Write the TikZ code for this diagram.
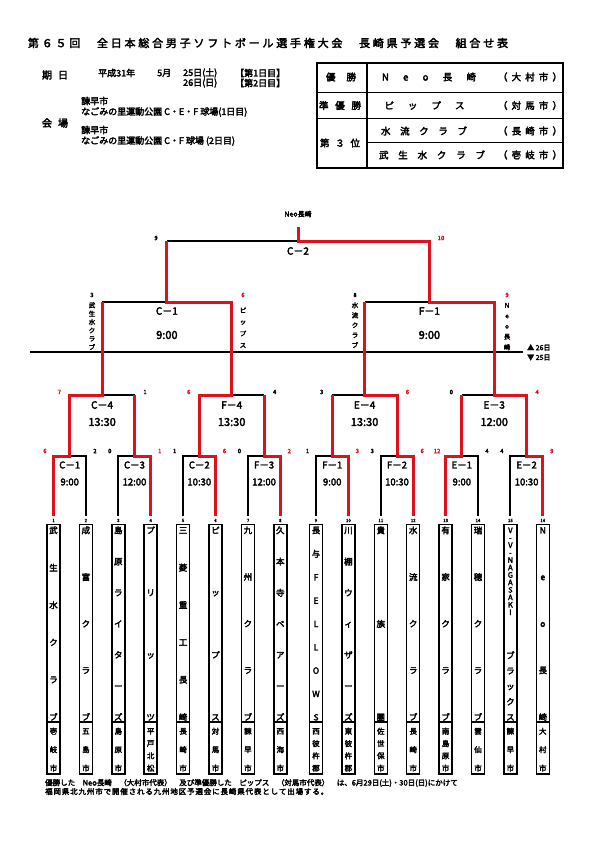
\documentclass[tikz,border=0pt]{standalone}
\usepackage{fontspec}
\setmainfont{Noto Sans CJK JP}[FakeBold=3]
\definecolor{wred}{RGB}{222,18,28}
\makeatletter
\newcommand\spr[2]{\makebox[#1][s]{\@tfor\@tmp:=#2\do{\@tmp\hfil}\unskip}}
\newcommand\vspr[2]{\vbox to #1{\offinterlineskip\@tfor\@tmp:=#2\do{\hbox to 0pt{\hss\vrule height .83em depth .07em width 0pt\@tmp\hss}\vfil}\unskip}}
\makeatother
\tikzset{
  blk/.style={line width=2pt,black,line join=miter},
  rd/.style={line width=3pt,wred,line join=miter},
  boxline/.style={line width=1.5pt,black},
  tnum/.style={font=\fontsize{4.5}{5}\selectfont,inner sep=0pt},
  sc/.style={font=\fontsize{6}{7}\selectfont,inner sep=0pt},
  scr/.style={sc,text=wred},
  mlab/.style={font=\fontsize{10}{12}\selectfont,inner sep=0pt},
  tlab/.style={font=\fontsize{11}{13}\selectfont,inner sep=0pt},
  rlab/.style={font=\fontsize{9.5}{11}\selectfont,inner sep=0pt},
  rtim/.style={font=\fontsize{9.5}{11}\selectfont,inner sep=0pt},
  vname/.style={font=\fontsize{8.5}{9}\selectfont,inner sep=0pt,anchor=north},
  vcity/.style={font=\fontsize{7.5}{8}\selectfont,inner sep=0pt,anchor=north},
  vsemi/.style={font=\fontsize{6.5}{7}\selectfont,inner sep=0pt,anchor=north},
  info/.style={font=\fontsize{9}{10}\selectfont,inner sep=0pt},
  tab/.style={font=\fontsize{9.5}{11}\selectfont,inner sep=0pt},
}
\newcommand\teambox[4]{%
  \draw[boxline] (#2-6.5,524.5) rectangle (#2+6.5,774);
  \draw[boxline] (#2-6.5,722) -- (#2+6.5,722);
  \node[tnum] (n#1) at (#2,520.5) {#1};
  \node[vname] (t#1) at (#2,526.2) {\vspr{194pt}{#3}};
  \node[vcity] (c#1) at (#2,727.6) {\vspr{43.2pt}{#4}};
}
\begin{document}
\begin{tikzpicture}[x=1pt,y=-1pt]
\fill[white] (0,0) rectangle (595,842);
\useasboundingbox (0,0) rectangle (595,842);

% title
\node[font=\fontsize{11}{13}\selectfont,inner sep=0pt] (title) at (268,43)
  {\spr{480pt}{第６５回　全日本総合男子ソフトボール選手権大会　長崎県予選会　組合せ表}};

% info block
\node[font=\fontsize{10}{12}\selectfont,inner sep=0pt] (kijitsu) at (55,75) {\spr{26pt}{期日}};
\node[info,anchor=west] (d1a) at (98,73) {平成31年};
\node[info,anchor=west] (d1b) at (157,73) {5月};
\node[info,anchor=west] (d1c) at (183,73) {25日(土)};
\node[info,anchor=west] (d1d) at (235,73) {【第1日目】};
\node[info,anchor=west] (d2c) at (183,83) {26日(日)};
\node[info,anchor=west] (d2d) at (235,83) {【第2日目】};
\node[font=\fontsize{10}{12}\selectfont,inner sep=0pt] (kaijo) at (55,123) {\spr{26pt}{会場}};
\node[info,anchor=west] (v1a) at (81,101) {諫早市};
\node[info,anchor=west] (v1b) at (81,112) {なごみの里運動公園 C・E・F 球場(1日目)};
\node[info,anchor=west] (v2a) at (81,130) {諫早市};
\node[info,anchor=west] (v2b) at (81,141) {なごみの里運動公園 C・F 球場 (2日目)};

% results table
\draw[line width=2pt] (316.7,63.3) rectangle (563,168);
\draw[line width=1.5pt] (316.7,92.3) -- (563,92.3);
\draw[line width=1.5pt] (316.7,118.3) -- (563,118.3);
\draw[line width=1.2pt] (367,142.7) -- (563,142.7);
\draw[line width=1.5pt] (367,63.3) -- (367,168);
\node[tab] (r1h) at (341,77) {\spr{30pt}{優勝}};
\node[tab] (r2h) at (340,105.5) {\spr{42pt}{準優勝}};
\node[tab] (r3h) at (340,143) {\spr{40pt}{第３位}};
\node[tab] (r1n) at (429,77) {\spr{94pt}{Neo長崎}};
\node[tab] (r1c) at (530,77) {\spr{64pt}{（大村市）}};
\node[tab] (r2n) at (424.5,105.5) {\spr{80pt}{ピップス}};
\node[tab] (r2c) at (530,105.5) {\spr{64pt}{（対馬市）}};
\node[tab] (r3n) at (424,131) {\spr{86pt}{水流クラブ}};
\node[tab] (r3c) at (530,131) {\spr{64pt}{（長崎市）}};
\node[tab] (r4n) at (432,155) {\spr{106pt}{武生水クラブ}};
\node[tab] (r4c) at (530,155) {\spr{64pt}{（壱岐市）}};

% day divider
\draw[line width=1.5pt] (30,352) -- (523,352);
\node[font=\fontsize{7}{8}\selectfont,inner sep=0pt,anchor=west] (d26) at (527,347.5) {▲ 26日};
\node[font=\fontsize{7}{8}\selectfont,inner sep=0pt,anchor=west] (d25) at (527,357.5) {▼ 25日};

% ---------- black base lines ----------
\foreach \a/\b in {53.5/85.9,118.3/150.7,183.1/215.5,247.9/280.3,316/348.4,380.8/413.2,445.6/478,510.4/542.8}
  \draw[blk] (\a,516) -- (\a,456) -- (\b,456) -- (\b,516);
\foreach \a/\b in {69.7/134.5,199.3/264.1,332.2/397,461.8/526.6}
  \draw[blk] (\a,395) -- (\b,395);
\draw[blk] (102.1,302) -- (231.7,302);
\draw[blk] (364.6,302) -- (494.2,302);
\draw[blk] (166.9,241) -- (429.4,241);

% ---------- red winner paths ----------
\draw[rd] (53.5,516) -- (53.5,456) -- (69.7,456) -- (69.7,395) -- (102.1,395) -- (102.1,302);
\draw[rd] (150.7,516) -- (150.7,456) -- (134.5,456) -- (134.5,395);
\draw[rd] (215.5,516) -- (215.5,456) -- (199.3,456) -- (199.3,395) -- (231.7,395) -- (231.7,302) -- (166.9,302) -- (166.9,241);
\draw[rd] (280.3,516) -- (280.3,456) -- (264.1,456) -- (264.1,395);
\draw[rd] (348.4,516) -- (348.4,456) -- (332.2,456) -- (332.2,395);
\draw[rd] (413.2,516) -- (413.2,456) -- (397,456) -- (397,395) -- (364.6,395) -- (364.6,302);
\draw[rd] (445.6,516) -- (445.6,456) -- (461.8,456) -- (461.8,395);
\draw[rd] (542.8,516) -- (542.8,456) -- (526.6,456) -- (526.6,395) -- (494.2,395) -- (494.2,302) -- (429.4,302) -- (429.4,241) -- (298.15,241) -- (298.15,227);

% ---------- match labels ----------
\node[font=\fontsize{7}{8}\selectfont,inner sep=0pt] (champ) at (298,214) {Neo長崎};
\node[mlab] (mF) at (298,251) {C－2};
\node[mlab] (mS1) at (166.9,311) {C－1};
\node[tlab] (tS1) at (166.9,335) {9:00};
\node[mlab] (mS2) at (429.4,311) {F－1};
\node[tlab] (tS2) at (429.4,335) {9:00};
\node[mlab] (mQ1) at (102.1,405) {C－4};
\node[tlab] (tQ1) at (102.1,422) {13:30};
\node[mlab] (mQ2) at (231.7,405) {F－4};
\node[tlab] (tQ2) at (231.7,422) {13:30};
\node[mlab] (mQ3) at (364.6,405) {E－4};
\node[tlab] (tQ3) at (364.6,422) {13:30};
\node[mlab] (mQ4) at (494.2,405) {E－3};
\node[tlab] (tQ4) at (494.2,422) {12:00};
\foreach \x/\m/\t [count=\k] in {69.7/C－1/9:00,134.5/C－3/12:00,199.3/C－2/10:30,264.1/F－3/12:00,332.2/F－1/9:00,397/F－2/10:30,461.8/E－1/9:00,526.6/E－2/10:30}{
  \node[rlab] (m1\k) at (\x,465) {\m};
  \node[rtim] (t1\k) at (\x,482) {\t};
}

% ---------- scores ----------
\node[scr] (s1a) at (45,451) {6};   \node[sc] (s1b) at (95,451) {2};
\node[sc] (s2a) at (109.8,451) {0}; \node[scr] (s2b) at (159.7,451) {1};
\node[sc] (s3a) at (174.6,451) {1}; \node[scr] (s3b) at (224.5,451) {6};
\node[sc] (s4a) at (239.4,451) {0}; \node[scr] (s4b) at (289.3,451) {2};
\node[sc] (s5a) at (307.5,451) {1}; \node[scr] (s5b) at (357.4,451) {3};
\node[sc] (s6a) at (372.3,451) {3}; \node[scr] (s6b) at (422.2,451) {6};
\node[scr] (s7a) at (437.1,451) {12}; \node[sc] (s7b) at (487,451) {4};
\node[sc] (s8a) at (501.9,451) {4}; \node[scr] (s8b) at (551.8,451) {9};
\node[scr] (q1a) at (59.2,392) {7};  \node[sc] (q1b) at (145,392) {1};
\node[scr] (q2a) at (188.8,392) {6}; \node[sc] (q2b) at (274.6,392) {4};
\node[sc] (q3a) at (321.7,392) {3};  \node[scr] (q3b) at (407.5,392) {6};
\node[sc] (q4a) at (451.3,392) {0};  \node[scr] (q4b) at (537.1,392) {4};
\node[sc] (p1a) at (92,295) {3};   \node[scr] (p1b) at (243,295) {6};
\node[sc] (p2a) at (355,295) {8};  \node[scr] (p2b) at (507,295) {9};
\node[sc] (fa) at (156,238) {9};   \node[scr] (fb) at (441,238) {10};

% semi-final vertical team labels
\node[vsemi] (l1) at (92,302.1) {\vspr{47.4pt}{武生水クラブ}};
\node[vsemi] (l2) at (243,307.1) {\vspr{40.4pt}{ピップス}};
\node[vsemi] (l3) at (355,302.1) {\vspr{45.4pt}{水流クラブ}};
\node[vsemi] (l4) at (507,302.1) {\vspr{47.4pt}{Neo長崎}};

% ---------- team boxes ----------
\teambox{1}{53.5}{武生水クラブ}{壱岐市}
\teambox{2}{85.9}{成富クラブ}{五島市}
\teambox{3}{118.3}{島原ライターズ}{島原市}
\teambox{4}{150.7}{プリッツ}{平戸北松}
\teambox{5}{183.1}{三菱重工長崎}{長崎市}
\teambox{6}{215.5}{ピップス}{対馬市}
\teambox{7}{247.9}{九州クラブ}{諫早市}
\teambox{8}{280.3}{久本寺ベアーズ}{西海市}
\teambox{9}{316}{長与FELLOWS}{西彼杵郡}
\teambox{10}{348.4}{川棚ウィザーズ}{東彼杵郡}
\teambox{11}{380.8}{貴族團}{佐世保市}
\teambox{12}{413.2}{水流クラブ}{長崎市}
\teambox{13}{445.6}{有家クラブ}{南島原市}
\teambox{14}{478}{瑞穂クラブ}{雲仙市}
\draw[boxline] (503.9,524.5) rectangle (516.9,774);
\draw[boxline] (503.9,722) -- (516.9,722);
\node[tnum] (n15) at (510.4,520.5) {15};
\node[vname,font=\fontsize{7.5}{8}\selectfont] (t15a) at (510.4,526.6) {\vspr{88.2pt}{V-V-NAGASAKI}};
\node[vname] (t15b) at (510.4,651.2) {\vspr{69pt}{ブラックス}};
\node[vcity] (c15) at (510.4,727.6) {\vspr{43.2pt}{諫早市}};
\teambox{16}{542.8}{Neo長崎}{大村市}

% footer
\node[font=\fontsize{7.5}{8}\selectfont,inner sep=0pt,anchor=west] (foot1) at (45,783)
  {\spr{392pt}{優勝した　{Neo}長崎　（大村市代表）　及び準優勝した　ピップス　（対馬市代表）　は、{6}月{29}日{(土)}・{30}日{(日)}にかけて}};
\node[font=\fontsize{7.5}{8}\selectfont,inner sep=0pt,anchor=west] (foot2) at (45,791.5)
  {\spr{283pt}{福岡県北九州市で開催される九州地区予選会に長崎県代表として出場する。}};
\end{tikzpicture}
\end{document}
